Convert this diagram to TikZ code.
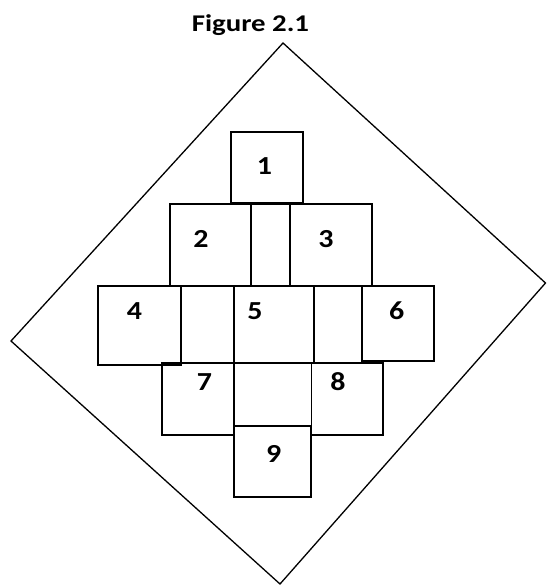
\documentclass[tikz,border=0pt]{standalone}
\usepackage{fontspec}
\setmainfont{Carlito}
\begin{document}
\begin{tikzpicture}[x=1pt,y=-1pt,
  boxline/.style={draw=black,line width=1.6pt},
  outline/.style={draw=black,line width=1.3pt,line join=miter},
  lbl/.style={anchor=base,inner sep=0pt,font=\fontsize{26}{28}\selectfont\bfseries,xscale=1.15},
  ttl/.style={anchor=base,inner sep=0pt,font=\fontsize{24}{26}\selectfont\bfseries,xscale=1.2}]
\useasboundingbox (0,0) rectangle (546,585);
% title
\node[ttl] (title) at (250.5,31.5) {Figure 2.1};
% outer quadrilateral
\coordinate (T) at (283,43);
\coordinate (R) at (545.5,283);
\coordinate (B) at (280,584);
\coordinate (L) at (11,341);
\draw[outline] (T) -- (R) -- (B) -- (L) -- cycle;
% row 1
\draw[boxline] (231,132) rectangle (303,203);
% row 2
\draw[boxline] (170,204) rectangle (251,286);
\draw[boxline] (251,204) rectangle (290,286);
\draw[boxline] (290,204) rectangle (372,286);
% row 3
\draw[boxline] (98,286) rectangle (181,365);
\draw[boxline] (181,286) rectangle (234,363);
\draw[boxline] (234,286) rectangle (314,363);
\draw[boxline] (314,286) rectangle (362,363);
\draw[boxline] (362,286) rectangle (434,361);
% row 4
\draw[boxline] (162,363) rectangle (234,435);
\draw[boxline] (234,363) rectangle (311.5,426);
\draw[boxline] (311.5,363) rectangle (383,435);
% row 5
\draw[boxline] (234,426) rectangle (311,497);
% labels
\node[lbl] (n1) at (264.5,175) {1};
\node[lbl] (n2) at (201,247) {2};
\node[lbl] (n3) at (326,247) {3};
\node[lbl] (n4) at (134.5,319.3) {4};
\node[lbl] (n5) at (255,319.3) {5};
\node[lbl] (n6) at (396.7,319.3) {6};
\node[lbl] (n7) at (204.5,390) {7};
\node[lbl] (n8) at (338,390.7) {8};
\node[lbl] (n9) at (273.7,462.7) {9};
\end{tikzpicture}
\end{document}
